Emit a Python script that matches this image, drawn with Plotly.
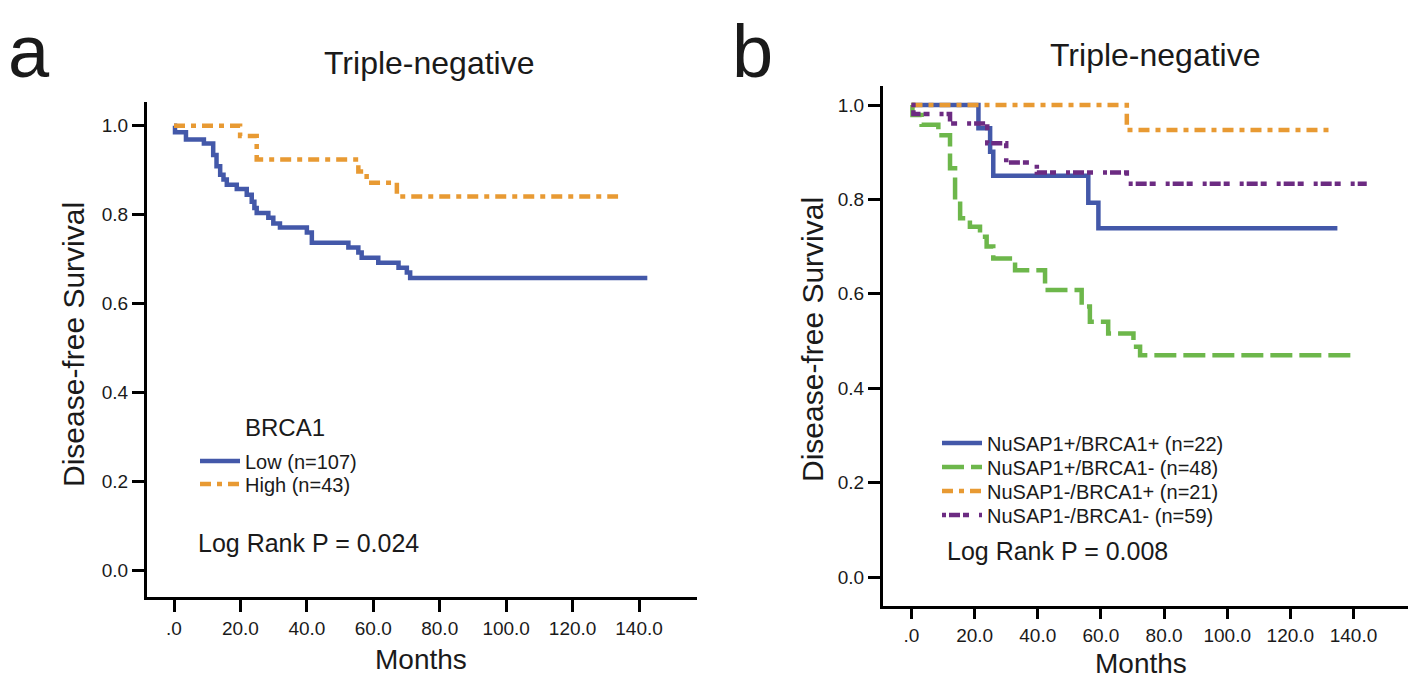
import plotly.graph_objects as go

# ---------------- data ----------------
# Panel a: BRCA1 expression, triple-negative
low_months = [0, 0.3, 3.6, 9.0, 11.8, 12.8, 13.9, 14.9, 15.9, 18.9, 21.9, 23.4, 24.2, 24.9,
              28.4, 29.9, 31.9, 40.0, 41.5, 52.5, 55.5, 56.5, 61.5, 67.6, 70.1, 71.1, 142.5]
low_surv = [1.0, 0.985, 0.969, 0.960, 0.934, 0.909, 0.890, 0.879, 0.867, 0.858, 0.845, 0.829, 0.815, 0.804,
            0.793, 0.780, 0.771, 0.760, 0.737, 0.726, 0.715, 0.703, 0.692, 0.681, 0.670, 0.658, 0.658]
high_months = [0, 19.9, 24.9, 55.5, 58.0, 67.1, 133.7]
high_surv = [1.0, 0.977, 0.924, 0.897, 0.872, 0.841, 0.841]

# Panel b: NuSAP1 / BRCA1 combinations
pp_months = [0, 21.2, 24.9, 25.9, 56.0, 59.2, 134.9]
pp_surv = [1.0, 0.951, 0.901, 0.850, 0.793, 0.739, 0.739]
pm_months = [0, 0.3, 3.2, 8.5, 12.2, 13.8, 15.4, 18.5, 21.7, 23.8, 25.9, 32.8, 42.3, 53.9,
             56.5, 62.3, 70.3, 72.4, 139.9]
pm_surv = [1.0, 0.979, 0.958, 0.936, 0.866, 0.799, 0.760, 0.742, 0.721, 0.700, 0.675, 0.650, 0.608, 0.573,
           0.541, 0.516, 0.488, 0.470, 0.470]
mp_months = [0, 68.2, 132.6]
mp_surv = [1.0, 0.947, 0.947]
mm_months = [0, 0.6, 12.2, 24.0, 30.0, 39.7, 68.2, 144.2]
mm_surv = [1.0, 0.981, 0.961, 0.919, 0.878, 0.857, 0.833, 0.833]

x_tickvals = [0, 20, 40, 60, 80, 100, 120, 140]
x_ticktext = [".0", "20.0", "40.0", "60.0", "80.0", "100.0", "120.0", "140.0"]
y_tickvals = [0, 0.2, 0.4, 0.6, 0.8, 1.0]
y_ticktext = ["0.0", "0.2", "0.4", "0.6", "0.8", "1.0"]

names_a = ["Low (n=107)", "High (n=43)"]
names_b = ["NuSAP1+/BRCA1+ (n=22)", "NuSAP1+/BRCA1- (n=48)",
           "NuSAP1-/BRCA1+ (n=21)", "NuSAP1-/BRCA1- (n=59)"]

# ---------------- style ----------------
OFF = 8                      # the page body margin shifts the figure by 8 px
W, H = 1416 - OFF, 679 - OFF
FONT = "Liberation Sans, Arial, Helvetica, sans-serif"
TXT = "#1a1a1a"
BLUE = "#4358A9"
ORANGE = "#E89A33"
GREEN = "#6DB74B"
PURPLE = "#6C2B82"
DASH_LONG = "22px,7px"
DASH_DOT = "11px,6px,5px,6px"
DASH_DOT2 = "4px,3px,11px,3px,6px,10px"
LW = 4.5


def px(x):
    return (x - OFF) / W


def py(y):
    return 1 - (y - OFF) / H


fig = go.Figure()

# legend rows: (screen x of icon start, screen y of row centre)
rows_a = [(195, 461), (195, 484)]
rows_b = [(937, 443), (937, 467), (937, 491), (937, 515)]

series_a = [
    (low_months, low_surv, names_a[0], BLUE, "solid"),
    (high_months, high_surv, names_a[1], ORANGE, DASH_DOT),
]
series_b = [
    (pp_months, pp_surv, names_b[0], BLUE, "solid"),
    (pm_months, pm_surv, names_b[1], GREEN, DASH_LONG),
    (mp_months, mp_surv, names_b[2], ORANGE, DASH_DOT),
    (mm_months, mm_surv, names_b[3], PURPLE, DASH_DOT2),
]

legends = {}
k = 0
for (series, rows, xa, ya) in [(series_a, rows_a, "x", "y"), (series_b, rows_b, "x2", "y2")]:
    for (xs, ys, nm, col, dash), (lx, ly) in zip(series, rows):
        k += 1
        lname = "legend" if k == 1 else "legend%d" % k
        fig.add_trace(go.Scatter(x=xs, y=ys, mode="lines", name=nm, line_shape="hv",
                                 line=dict(color=col, width=LW, dash=dash), showlegend=True,
                                 xaxis=xa, yaxis=ya, legend=lname))
        legends[lname] = dict(x=px(lx), y=py(ly - 19.5), xanchor="left", yanchor="top",
                              bgcolor="rgba(0,0,0,0)", itemwidth=40, visible=True,
                              font=dict(family=FONT, size=20, color=TXT))

axis_common = dict(showgrid=False, zeroline=False, showline=True, linecolor="black", linewidth=3,
                   ticks="outside", ticklen=12, tickwidth=3, tickcolor="black",
                   tickfont=dict(family=FONT, size=19, color=TXT))
xb_common = dict(axis_common, ticklen=10)

fig.update_layout(
    width=W, height=H, margin=dict(l=0, r=0, t=0, b=0),
    paper_bgcolor="white", plot_bgcolor="white", showlegend=True,
    font=dict(family=FONT, color=TXT),
    xaxis=dict(domain=[px(147), px(697)], range=[-8.13, 157.46], anchor="y",
               tickvals=x_tickvals, ticktext=x_ticktext, **axis_common),
    yaxis=dict(domain=[py(597), py(101.7)], range=[-0.0591, 1.0539], anchor="x",
               tickvals=y_tickvals, ticktext=y_ticktext, **axis_common),
    xaxis2=dict(domain=[px(883), px(1410)], range=[-9.03, 157.9], anchor="y2",
                tickvals=x_tickvals, ticktext=x_ticktext, **xb_common),
    yaxis2=dict(domain=[py(606), py(86)], range=[-0.0614, 1.0403], anchor="x2",
                tickvals=y_tickvals, ticktext=y_ticktext, **axis_common),
    **legends,
)

# panel letters, kept inside the top edge of the figure
for text, x in [("a", 29), ("b", 752)]:
    fig.add_annotation(text=text, x=px(x), y=1, xref="paper", yref="paper",
                       xanchor="center", yanchor="top", showarrow=False,
                       font=dict(family=FONT, size=74, color=TXT))

ann = [
    ("Triple-negative", 429, 63, 32),
    ("Triple-negative", 1155, 55, 32),
    ("Months", 421, 659, 28),
    ("Months", 1141, 663, 28),
    ("BRCA1", 285, 427, 24),
    ("Log Rank P = 0.024", 308, 543, 25),
    ("Log Rank P = 0.008", 1057, 551, 25),
]
for text, x, y, size in ann:
    fig.add_annotation(text=text, x=px(x), y=py(y), xref="paper", yref="paper",
                       xanchor="center", yanchor="middle", showarrow=False,
                       font=dict(family=FONT, size=size, color=TXT))

for x, y in [(73, 345), (812, 340)]:
    fig.add_annotation(text="Disease-free Survival", x=px(x), y=py(y), xref="paper", yref="paper",
                       xanchor="center", yanchor="middle", showarrow=False, textangle=-90,
                       font=dict(family=FONT, size=30, color=TXT))

fig.write_html("out.html")
